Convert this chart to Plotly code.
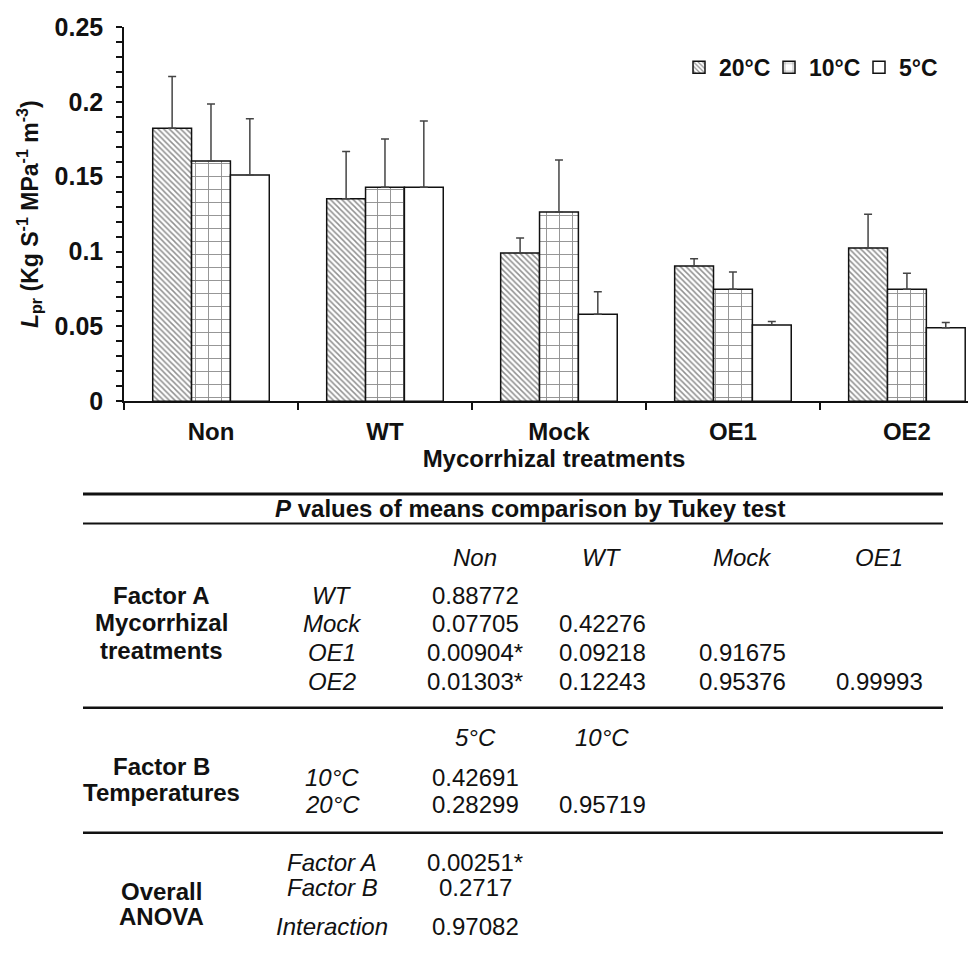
import plotly.graph_objects as go

# ---------------- data ----------------
categories = ["Non", "WT", "Mock", "OE1", "OE2"]
series_names = ["20°C", "10°C", "5°C"]
vals_20 = [0.1824, 0.1353, 0.0991, 0.0903, 0.1024]
vals_10 = [0.1605, 0.1430, 0.1265, 0.0748, 0.0748]
vals_5 = [0.1511, 0.1430, 0.0581, 0.0509, 0.0491]
err_20 = [0.0346, 0.0316, 0.0099, 0.0049, 0.0226]
err_10 = [0.0380, 0.0322, 0.0347, 0.0116, 0.0107]
err_5 = [0.0377, 0.0443, 0.0151, 0.0024, 0.0035]

y_title = "<i>L</i><sub>pr</sub> (Kg S<sup>-1</sup> MPa<sup>-1</sup> m<sup>-3</sup>)"
x_title = "Mycorrhizal treatments"

table_header = "<i>P</i> values of means comparison by Tukey test"
factorA_label = ["Factor A", "Mycorrhizal", "treatments"]
factorA_cols = ["Non", "WT", "Mock", "OE1"]
factorA_rows = ["WT", "Mock", "OE1", "OE2"]
factorA_vals = [
    ["0.88772", "", "", ""],
    ["0.07705", "0.42276", "", ""],
    ["0.00904*", "0.09218", "0.91675", ""],
    ["0.01303*", "0.12243", "0.95376", "0.99993"],
]
factorB_label = ["Factor B", "Temperatures"]
factorB_cols = ["5°C", "10°C"]
factorB_rows = ["10°C", "20°C"]
factorB_vals = [
    ["0.42691", ""],
    ["0.28299", "0.95719"],
]
anova_label = ["Overall", "ANOVA"]
anova_rows = ["Factor A", "Factor B", "Interaction"]
anova_vals = ["0.00251*", "0.2717", "0.97082"]

# ---------------- figure ----------------
W, H = 976, 955
ML, MR, MT, MB = 116, 0, 19, 0
PW, PH = W - ML - MR, H - MT - MB
FONT = "Liberation Sans, Arial, sans-serif"


def px(x):
    return (x - ML) / PW


def py(y):
    return 1 - (y - MT) / PH


fig = go.Figure()

patterns = [
    dict(shape="\\", size=4, solidity=0.38, fgcolor="#222", bgcolor="white"),
    dict(shape="+", size=13, solidity=0.14, fgcolor="#222", bgcolor="white"),
    dict(shape="", bgcolor="white"),
]
for name, vals, errs, pat in zip(series_names, [vals_20, vals_10, vals_5],
                                 [err_20, err_10, err_5], patterns):
    fig.add_trace(go.Bar(
        x=categories, y=vals, name=name,
        marker=dict(color="white", pattern=pat,
                    line=dict(color="#111", width=1.5)),
        error_y=dict(type="data", symmetric=False, array=errs,
                     arrayminus=[0] * len(errs), color="#444",
                     thickness=1.5, width=4),
    ))

plot_bottom = 399
fig.update_layout(
    width=W, height=H,
    margin=dict(l=ML, r=MR, t=MT, b=MB, pad=0),
    paper_bgcolor="white", plot_bgcolor="white",
    font=dict(family=FONT, color="#111", size=24),
    barmode="group", bargap=0.33, bargroupgap=0,
    showlegend=True,
    legend=dict(orientation="h", x=px(671), y=py(60), xanchor="left",
                yanchor="middle", font=dict(size=23, weight="bold"),
                itemwidth=30, entrywidth=45, entrywidthmode="pixels",
                bgcolor="rgba(0,0,0,0)", traceorder="normal"),
    xaxis=dict(type="category", range=[-0.5, 4.443], tickson="boundaries",
               ticks="outside", ticklen=7, tickcolor="#111", tickwidth=1.5,
               showline=True, linecolor="#111", linewidth=1.5,
               showgrid=False, zeroline=False, ticklabelstandoff=8,
               tickfont=dict(size=24, weight="bold"),
               title=dict(text=x_title, font=dict(size=24, weight="bold"),
                          standoff=6)),
    yaxis=dict(domain=[py(plot_bottom), 1], range=[0, 0.25], dtick=0.05,
               ticks="outside", ticklen=6, tickcolor="#111", tickwidth=1.5,
               minor=dict(dtick=0.01, ticks="outside", ticklen=6,
                          tickcolor="#111", tickwidth=1.5),
               showline=True, linecolor="#111", linewidth=1.5,
               showgrid=False, zeroline=False, ticklabelstandoff=8,
               tickfont=dict(size=25, weight="bold"),
               title=dict(text=y_title, font=dict(size=23, weight="bold"),
                          standoff=10)),
)

# ---------------- table ----------------
LX0, LX1 = 75, 935
line_specs = [(493, 3), (523, 2), (710, 2.5), (837, 2.5)]
for yy, lw in line_specs:
    fig.add_shape(type="line", xref="paper", yref="paper",
                  x0=px(LX0), x1=px(LX1), y0=py(yy), y1=py(yy),
                  line=dict(color="#111", width=lw))


def txt(x, y, s, size=24, bold=False, italic=False):
    if italic:
        s = "<i>" + s + "</i>"
    fig.add_annotation(x=px(x), y=py(y), xref="paper", yref="paper",
                       text=s, showarrow=False, xanchor="center",
                       yanchor="middle",
                       font=dict(size=size, family=FONT, color="#111",
                                 weight="bold" if bold else "normal"))


COLX = [467, 594, 734, 871]
GROUPX = 153
ROWX = 324

txt(522, 508, table_header, bold=True)

# Factor A block
for i, c in enumerate(factorA_cols):
    txt(COLX[i], 558, c, italic=True)
rowsA_y = [596, 625, 654, 683]
for lab, yy in zip(factorA_label, [596, 624, 652]):
    txt(GROUPX, yy, lab, bold=True)
for r, yy in zip(factorA_rows, rowsA_y):
    txt(ROWX, yy, r, italic=True)
for vals, yy in zip(factorA_vals, rowsA_y):
    for i, v in enumerate(vals):
        if v:
            txt(COLX[i], yy, v)

# Factor B block
for i, c in enumerate(factorB_cols):
    txt(COLX[i], 740, c, italic=True)
for lab, yy in zip(factorB_label, [770, 796]):
    txt(GROUPX, yy, lab, bold=True)
rowsB_y = [781, 808]
for r, yy in zip(factorB_rows, rowsB_y):
    txt(ROWX, yy, r, italic=True)
for vals, yy in zip(factorB_vals, rowsB_y):
    for i, v in enumerate(vals):
        if v:
            txt(COLX[i], yy, v)

# ANOVA block
for lab, yy in zip(anova_label, [897, 922]):
    txt(GROUPX, yy, lab, bold=True)
rowsC_y = [867, 893, 932]
for r, v, yy in zip(anova_rows, anova_vals, rowsC_y):
    txt(ROWX, yy, r, italic=True)
    txt(COLX[0], yy, v)

fig.write_html("out.html")
